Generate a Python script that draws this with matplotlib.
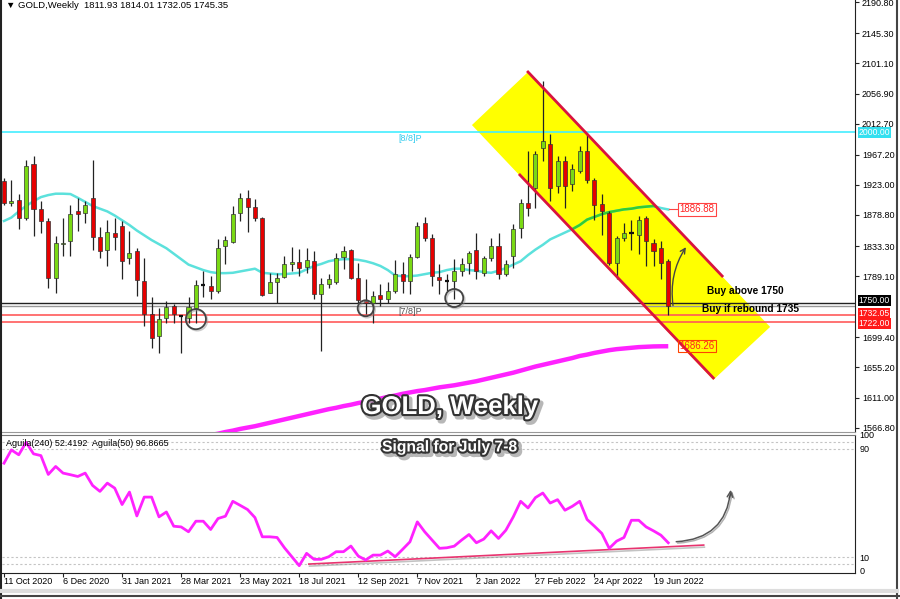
import numpy as np
import matplotlib
matplotlib.use('Agg')
import matplotlib.pyplot as plt
from matplotlib.patches import Polygon, FancyArrowPatch
import matplotlib.patheffects as pe

plt.rcParams['font.family'] = ['Liberation Sans', 'DejaVu Sans']

W, H = 900, 599

# weekly candles 11 Oct 2020 .. 3 Jul 2022
opens = [1928, 1897, 1901, 1875, 1953, 1887, 1870, 1787, 1836, 1841, 1885, 1882, 1903, 1847, 1827, 1853,
         1863, 1816, 1826, 1782, 1733, 1702, 1727, 1745, 1730, 1727, 1743, 1776, 1775, 1767, 1833, 1839,
         1881, 1903, 1890, 1875, 1764, 1781, 1788, 1807, 1810, 1802, 1812, 1763, 1777, 1780, 1817, 1827,
         1787, 1753, 1750, 1761, 1756, 1767, 1792, 1782, 1817, 1867, 1845, 1788, 1782, 1782, 1797, 1809,
         1828, 1794, 1816, 1833, 1792, 1819, 1860, 1896, 1919, 1977, 1983, 1921, 1958, 1924, 1944, 1972,
         1930, 1895, 1882, 1808, 1845, 1852, 1850, 1874, 1837, 1830, 1811.93]
highs = [1933, 1930, 1909, 1960, 1965, 1899, 1875, 1848, 1875, 1894, 1904, 1899, 1959, 1861, 1872, 1875,
         1870, 1855, 1830, 1816, 1758, 1743, 1752, 1748, 1731, 1758, 1783, 1797, 1789, 1843, 1848, 1892,
         1911, 1915, 1902, 1876, 1793, 1794, 1819, 1832, 1829, 1831, 1826, 1786, 1792, 1823, 1833, 1829,
         1808, 1785, 1768, 1777, 1781, 1813, 1810, 1822, 1868, 1876, 1851, 1807, 1792, 1814, 1816, 1826,
         1853, 1818, 1845, 1853, 1813, 1865, 1902, 1972, 1972, 2075, 1998, 1965, 1965, 1953, 1980, 1999,
         1933, 1909, 1884, 1848, 1867, 1872, 1877, 1877, 1843, 1841, 1814.01]
lows = [1893, 1892, 1858, 1871, 1848, 1853, 1772, 1765, 1819, 1819, 1855, 1867, 1827, 1816, 1804, 1828,
        1785, 1807, 1760, 1716, 1684, 1677, 1721, 1721, 1677, 1721, 1721, 1758, 1755, 1765, 1807, 1838,
        1870, 1854, 1870, 1760, 1764, 1749, 1787, 1797, 1790, 1794, 1756, 1680, 1772, 1777, 1800, 1785,
        1750, 1734, 1721, 1745, 1750, 1765, 1765, 1763, 1816, 1841, 1775, 1763, 1767, 1756, 1789, 1792,
        1785, 1789, 1811, 1785, 1789, 1801, 1845, 1877, 1889, 1958, 1899, 1911, 1889, 1914, 1941, 1926,
        1872, 1850, 1806, 1785, 1841, 1828, 1821, 1804, 1804, 1785, 1732.05]
closes = [1897, 1900, 1875, 1950, 1887, 1870, 1787, 1838, 1838, 1880, 1880, 1894, 1847, 1826, 1854, 1847,
          1812, 1823, 1783, 1733, 1699, 1726, 1744, 1733, 1730, 1744, 1776, 1776, 1768, 1830, 1842, 1880,
          1903, 1890, 1875, 1762, 1781, 1786, 1807, 1810, 1801, 1813, 1763, 1778, 1785, 1816, 1826, 1787,
          1754, 1750, 1760, 1756, 1767, 1792, 1782, 1817, 1862, 1845, 1789, 1783, 1782, 1797, 1807, 1823,
          1797, 1816, 1833, 1792, 1807, 1858, 1897, 1889, 1968, 1987, 1919, 1958, 1921, 1946, 1972, 1930,
          1894, 1884, 1809, 1845, 1852, 1852, 1871, 1840, 1826, 1809, 1745.35]

# cyan moving average, one value per bar
ma_fast = [1870, 1875, 1884, 1892, 1899, 1905, 1908, 1910, 1910, 1909.5, 1904, 1898, 1892, 1888, 1884, 1878,
           1871, 1864, 1856, 1849, 1842, 1836, 1830, 1822, 1814, 1806, 1802, 1798, 1795, 1793.5, 1793.5, 1794,
           1796, 1798, 1800, 1794, 1793, 1792, 1792, 1793, 1794, 1799, 1804, 1807, 1811, 1813, 1814, 1814,
           1813, 1811, 1808, 1804, 1798, 1790, 1789, 1789, 1790, 1792, 1794, 1795, 1798, 1800, 1800, 1798,
           1797, 1795, 1794, 1797, 1801, 1806, 1811, 1820, 1828, 1835, 1843, 1848, 1853, 1858, 1864, 1872,
           1876, 1880, 1883, 1885, 1887, 1888, 1890, 1891, 1892, 1889, 1886.88]
# magenta long moving average, bars 28..90
ma_slow_start = 28
ma_slow = [1556, 1558, 1560.5, 1562.5, 1565, 1567, 1569, 1571.5, 1574, 1576.5, 1579, 1581.5, 1584, 1586.5,
           1589, 1591.5, 1594, 1596, 1598.5, 1600.5, 1603, 1605, 1607, 1609.5, 1612, 1614, 1616.5, 1618.5,
           1620.5, 1622, 1624, 1626, 1627.5, 1629, 1631, 1633, 1635, 1637.5, 1640, 1642.5, 1645, 1647.5,
           1650.5, 1653.5, 1656.5, 1659, 1661.5, 1664, 1666.5, 1669, 1672, 1674, 1676.5, 1678.5, 1680.5,
           1682, 1683, 1684, 1685, 1685.5, 1686, 1686.2, 1686.26]
# Aguila(50) oscillator
aguila = [79.2, 89, 85.4, 94.6, 86.1, 84.8, 70.9, 76.8, 71.9, 70.7, 69.4, 71.9, 62.8, 58.4, 64.5, 60.8,
          48.7, 57.9, 40.3, 54.2, 54.2, 39.6, 43.2, 32.7, 32.2, 28.6, 36.4, 36.4, 30.3, 38.4, 40.1, 51.1,
          48.1, 45.0, 39.1, 24.9, 24.9, 24.4, 16.8, 10.2, 3.6, 12.7, 8.3, 8.3, 10.2, 13.9, 13.9, 18.1,
          10.7, 7.8, 11.4, 11.4, 14.4, 10.2, 15.6, 21.2, 35.9, 28.6, 22.5, 16.4, 16.8, 18.0, 22.5, 26.6,
          20.5, 23.2, 29.3, 23.7, 29.8, 39.6, 51.1, 46.2, 53.8, 57.2, 49.8, 52.3, 44.5, 47.4, 51.1, 37.7,
          32.7, 27.4, 16.4, 21.7, 24.4, 37.1, 37.1, 32.2, 29.3, 26.1, 20.5]

date_labels = ['11 Oct 2020', '6 Dec 2020', '31 Jan 2021', '28 Mar 2021', '23 May 2021', '18 Jul 2021',
               '12 Sep 2021', '7 Nov 2021', '2 Jan 2022', '27 Feb 2022', '24 Apr 2022', '19 Jun 2022']
price_ticks = [2190.80, 2145.30, 2101.10, 2056.90, 2012.70, 1967.20, 1923.00, 1878.80, 1833.30,
               1789.10, 1699.40, 1655.20, 1611.00, 1566.80]
osc_ticks = [100, 90, 10, 0]
osc_levels = [95, 90, 10, 5]

level_murrey = 2000.0
buy_level = 1750.0
last_close = 1745.35
red_levels = [1732.05, 1722.00]
# touches of support that are circled
circle_idx = [26, 49, 61]
circle_price = [1726, 1742, 1757]
circle_size = [14.5, 11.5, 13]
# channel (bar index, price)
chan_x = [71.0, 103.8, 96.1, 63.4]
chan_y = [2088.5, 1714.6, 1636.9, 2010.7]
upper_x, upper_y = [71.0, 97.3], [2088.5, 1789.3]
lower_x, lower_y = [69.9, 96.1], [1937.5, 1639.8]
trend_x, trend_y = [41.3, 94.8], [4.8, 18.8]

n = len(opens)
idx = np.arange(n)

fig = plt.figure(figsize=(9, 5.99), dpi=100)
fig.patch.set_facecolor('white')


def px_axes(x0, y0, x1, y1):
    return fig.add_axes([x0 / W, 1 - y1 / H, (x1 - x0) / W, (y1 - y0) / H])


XL = (-0.27, 115.3)
ax = px_axes(2, 0, 855, 432)
ax.set_xlim(*XL)
ax.set_ylim(1560.5, 2194.1)
for s in ['top', 'left']:
    ax.spines[s].set_visible(False)
ax.spines['right'].set_color('#222')
ax.spines['bottom'].set_color('#999')
ax.set_xticks([])
ax.yaxis.tick_right()
ax.set_yticks(price_ticks)
ax.set_yticklabels(['%.2f' % t for t in price_ticks])
ax.tick_params(axis='y', length=3, width=0.8, labelsize=6.5, pad=2, color='#222')

# yellow channel
ax.add_patch(Polygon(list(zip(chan_x, chan_y)), closed=True, fc='#ffff00', ec='none', zorder=1))

# horizontal levels
ax.axhline(level_murrey, color='#44eeff', lw=1.2, zorder=2)
ax.axhline(buy_level, color='#222222', lw=1.0, zorder=2)
ax.axhline(last_close, color='#999999', lw=1.0, zorder=2)
for lv in red_levels:
    ax.axhline(lv, color='#ff5a5a', lw=1.2, zorder=2)
ax.text(53.5, level_murrey - 3, '[8/8]P', color='#33ccee', fontsize=6.5, va='top', zorder=2)
ax.text(53.5, last_close - 2, '[7/8]P', color='#555555', fontsize=6.5, va='top', zorder=2)

# moving averages
ax.plot(idx, ma_fast, color='#5ce1dc', lw=1.8, zorder=3)
green_ma, = ax.plot(idx, ma_fast, color='#33cc33', lw=1.8, zorder=3)
clip_poly = Polygon(list(zip(chan_x, chan_y)), closed=True, transform=ax.transData)
green_ma.set_clip_path(clip_poly)
ax.plot(np.arange(ma_slow_start, ma_slow_start + len(ma_slow)), ma_slow, color='#ff22ff', lw=3.2,
        solid_capstyle='butt', zorder=3)

# candles
o = np.array(opens); c = np.array(closes); hi = np.array(highs); lo = np.array(lows)
ax.vlines(idx, lo, hi, color='#222222', lw=0.9, zorder=4)
up = c > o
dn = c < o
flat = c == o
ax.bar(idx[up], (c - o)[up], bottom=o[up], width=0.55, color='#7ad914', edgecolor='#333333', lw=0.5, zorder=5)
ax.bar(idx[dn], (o - c)[dn], bottom=c[dn], width=0.55, color='#e60000', edgecolor='#333333', lw=0.5, zorder=5)
ax.hlines(c[flat], idx[flat] - 0.3, idx[flat] + 0.3, color='#111111', lw=1.6, zorder=5)

# channel borders
ax.plot(upper_x, upper_y, color='#d9133f', lw=2, zorder=6)
ax.plot(lower_x, lower_y, color='#d9133f', lw=2, zorder=6)

# circles on support touches
for cx, cy, ms in zip(circle_idx, circle_price, circle_size):
    ax.plot([cx], [cy], 'o', ms=ms, mfc='none', mec='#444444', mew=1.3, zorder=7,
            path_effects=[pe.SimpleLineShadow(offset=(1, -1), shadow_color='#999999', alpha=0.5), pe.Normal()])

# arrow up from last candle
ax.add_patch(FancyArrowPatch((90.7, 1742), (92.6, 1835), connectionstyle='arc3,rad=-0.2',
                             arrowstyle='->', mutation_scale=9, color='#444444', lw=1.0, zorder=8))

ax.text(95.3, 1767, 'Buy above 1750', fontsize=7.3, fontweight='bold', va='center', zorder=8)
ax.text(94.6, 1741, 'Buy if rebound 1735', fontsize=7.3, fontweight='bold', va='center', zorder=8)

# value tags
ax.plot([90.1, 91.4], [ma_fast[-1], ma_fast[-1]], color='#ff4444', lw=0.8, zorder=8)
ax.text(91.5, ma_fast[-1], '%.2f' % ma_fast[-1], color='#ff2222', fontsize=7, va='center', zorder=8,
        bbox=dict(boxstyle='square,pad=0.12', fc='white', ec='#ff4444', lw=0.8))
ax.text(91.5, ma_slow[-1], '%.2f' % ma_slow[-1], color='#ff2222', fontsize=7, va='center', zorder=8,
        bbox=dict(boxstyle='square,pad=0.12', fc='none', ec='#ff4400', lw=0.8))

# right axis price tags (the two red ones sit nudged apart like the stacked tags)
ytr = ax.get_yaxis_transform()
for val, pos, fc in [(1722.00, 1719.5, '#ff1a1a'), (1732.05, 1734.0, '#ff1a1a'),
                     (buy_level, buy_level + 3, '#000000'), (level_murrey, level_murrey, '#33e0f0')]:
    ax.text(1.004, pos, '%.2f' % val, transform=ytr, color='white', fontsize=6.2, va='center', ha='left',
            clip_on=False, zorder=9, bbox=dict(boxstyle='square,pad=0.1', fc=fc, ec='none'))

ax.text(0.005, 2192, '\u25bc GOLD,Weekly  %.2f %.2f %.2f %.2f' % (opens[-1], highs[-1], lows[-1], closes[-1]),
        transform=ytr, fontsize=6.8, va='top', ha='left', zorder=9)

# oscillator panel
ax2 = px_axes(2, 435, 855, 573)
ax2.set_xlim(*XL)
ax2.set_ylim(-1.8, 99.5)
ax2.spines['left'].set_visible(False)
ax2.spines['top'].set_color('#777')
ax2.spines['right'].set_color('#222')
ax2.spines['bottom'].set_color('#222')
for lv in osc_levels:
    ax2.axhline(lv, color='#c4c4c4', lw=0.8, ls=(0, (2, 2)), zorder=1)
ax2.plot(idx, aguila, color='#ff22ff', lw=2, zorder=3)
ax2.plot(trend_x, trend_y, color='#e8336f', lw=1.2, zorder=2,
         path_effects=[pe.SimpleLineShadow(offset=(0.5, -1.5), shadow_color='#888888', alpha=0.5), pe.Normal()])
ax2.add_patch(FancyArrowPatch((90.7, 21.2), (98.5, 61.6), connectionstyle='arc3,rad=0.45',
                              arrowstyle='->', mutation_scale=10, color='#555555', lw=1.1, zorder=4,
                              path_effects=[pe.SimpleLineShadow(offset=(1, -1), alpha=0.3), pe.Normal()]))
ax2.text(0.005, 97, 'Aguila(240) 52.4192  Aguila(50) 96.8665', transform=ax2.get_yaxis_transform(),
         fontsize=6.5, va='top', ha='left', zorder=5)
ax2.yaxis.tick_right()
ax2.set_yticks(osc_ticks)
ax2.set_yticklabels([str(t) for t in osc_ticks])
ax2.tick_params(axis='y', length=0, labelsize=6.5, pad=3)
ax2.set_xticks(range(0, n, 8))
ax2.set_xticklabels(date_labels, ha='left')
ax2.tick_params(axis='x', length=3, width=0.8, labelsize=6.5, pad=0, color='#222')

# titles
shadow = [pe.Stroke(linewidth=4, foreground='#888888', offset=(2, -2), alpha=0.6),
          pe.Stroke(linewidth=3, foreground='#333333'), pe.Normal()]
fig.text(450 / W, 1 - 407 / H, 'GOLD, Weekly', color='white', fontsize=18.5, fontweight='bold',
         ha='center', va='center', path_effects=shadow, zorder=20)
fig.text(450 / W, 1 - 447 / H, 'Signal for July 7-8', color='white', fontsize=11.3, fontweight='bold',
         ha='center', va='center', path_effects=shadow, zorder=20)

# outer frame
fig.add_artist(plt.Line2D([1 / W, 1 / W], [0, 1], color='#222', lw=1.5))
fig.add_artist(plt.Line2D([897 / W, 897 / W], [0, 1], color='#444', lw=1.5))
fig.add_artist(plt.Line2D([0, 1], [1 - 596 / H, 1 - 596 / H], color='#444', lw=1.5))
fig.add_artist(plt.Line2D([0, 897 / W], [1 - 591 / H, 1 - 591 / H], color='#dddddd', lw=3))

fig.savefig('out.png', dpi=100, facecolor='white')
